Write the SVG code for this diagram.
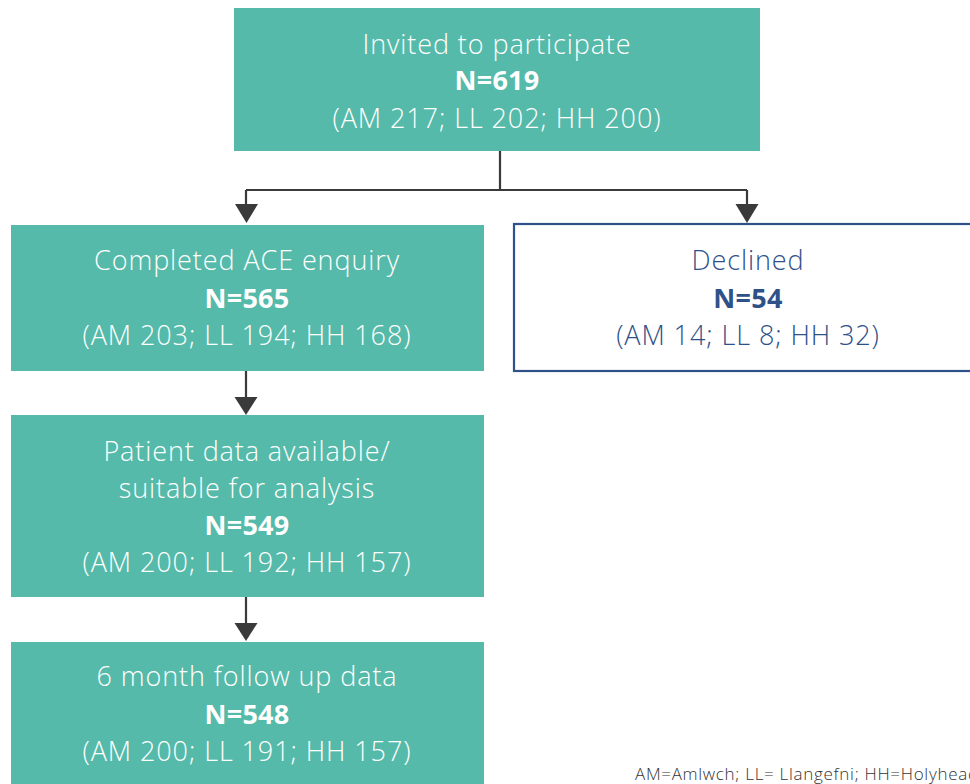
<svg xmlns="http://www.w3.org/2000/svg" width="970" height="784" viewBox="0 0 970 784">
<defs>
<style>
.box{fill:#55BAA9;}
.dbox{fill:#ffffff;stroke:#2F5189;stroke-width:2.2;}
.t{font-family:"Open Sans","Liberation Sans",sans-serif;font-size:27px;font-weight:300;letter-spacing:0.9px;text-anchor:middle;fill:#ffffff;}
.b{font-weight:700;letter-spacing:0.3px;}
.dt{fill:#2F5189;}
.ln{stroke:#3a3a3a;stroke-width:2.2;fill:none;}
.foot{font-family:"Open Sans","Liberation Sans",sans-serif;font-size:17px;font-weight:300;letter-spacing:0.7px;fill:#333333;}
</style>
</defs>
<g id="connectors">
<path class="ln" d="M500,151 V190"/>
<path class="ln" d="M246,190 H747"/>
<path d="M246,190 V205" class="ln"/>
<path d="M235,204 H258 L246.5,223 Z" fill="#3a3a3a"/>
<path d="M747,190 V205" class="ln"/>
<path d="M735.5,204 H758.5 L747,223 Z" fill="#3a3a3a"/>
<path d="M246,371 V398" class="ln"/>
<path d="M234.5,397 H257.5 L246,415 Z" fill="#3a3a3a"/>
<path d="M246,597 V624" class="ln"/>
<path d="M234.5,623 H257.5 L246,641 Z" fill="#3a3a3a"/>
</g>
<g id="invited">
<rect class="box" x="234" y="8" width="526" height="143"/>
<text class="t" x="497" y="54">Invited to participate</text>
<text class="t b" x="497" y="90">N=619</text>
<text class="t" x="497" y="128">(AM 217; LL 202; HH 200)</text>
</g>
<g id="completed">
<rect class="box" x="11" y="225" width="473" height="146"/>
<text class="t" x="247" y="270">Completed ACE enquiry</text>
<text class="t b" x="247" y="308">N=565</text>
<text class="t" x="247" y="345">(AM 203; LL 194; HH 168)</text>
</g>
<g id="declined">
<rect class="dbox" x="514" y="224" width="470" height="147"/>
<text class="t dt" x="748" y="270">Declined</text>
<text class="t b dt" x="748" y="308">N=54</text>
<text class="t dt" x="748" y="345">(AM 14; LL 8; HH 32)</text>
</g>
<g id="patient">
<rect class="box" x="11" y="415" width="473" height="182"/>
<text class="t" x="247" y="461">Patient data available/</text>
<text class="t" x="247" y="498">suitable for analysis</text>
<text class="t b" x="247" y="535">N=549</text>
<text class="t" x="247" y="572">(AM 200; LL 192; HH 157)</text>
</g>
<g id="followup">
<rect class="box" x="11" y="642" width="473" height="150"/>
<text class="t" x="247" y="686">6 month follow up data</text>
<text class="t b" x="247" y="724">N=548</text>
<text class="t" x="247" y="761">(AM 200; LL 191; HH 157)</text>
</g>
<text class="foot" x="635" y="780">AM=Amlwch; LL= Llangefni; HH=Holyhead</text>
</svg>
